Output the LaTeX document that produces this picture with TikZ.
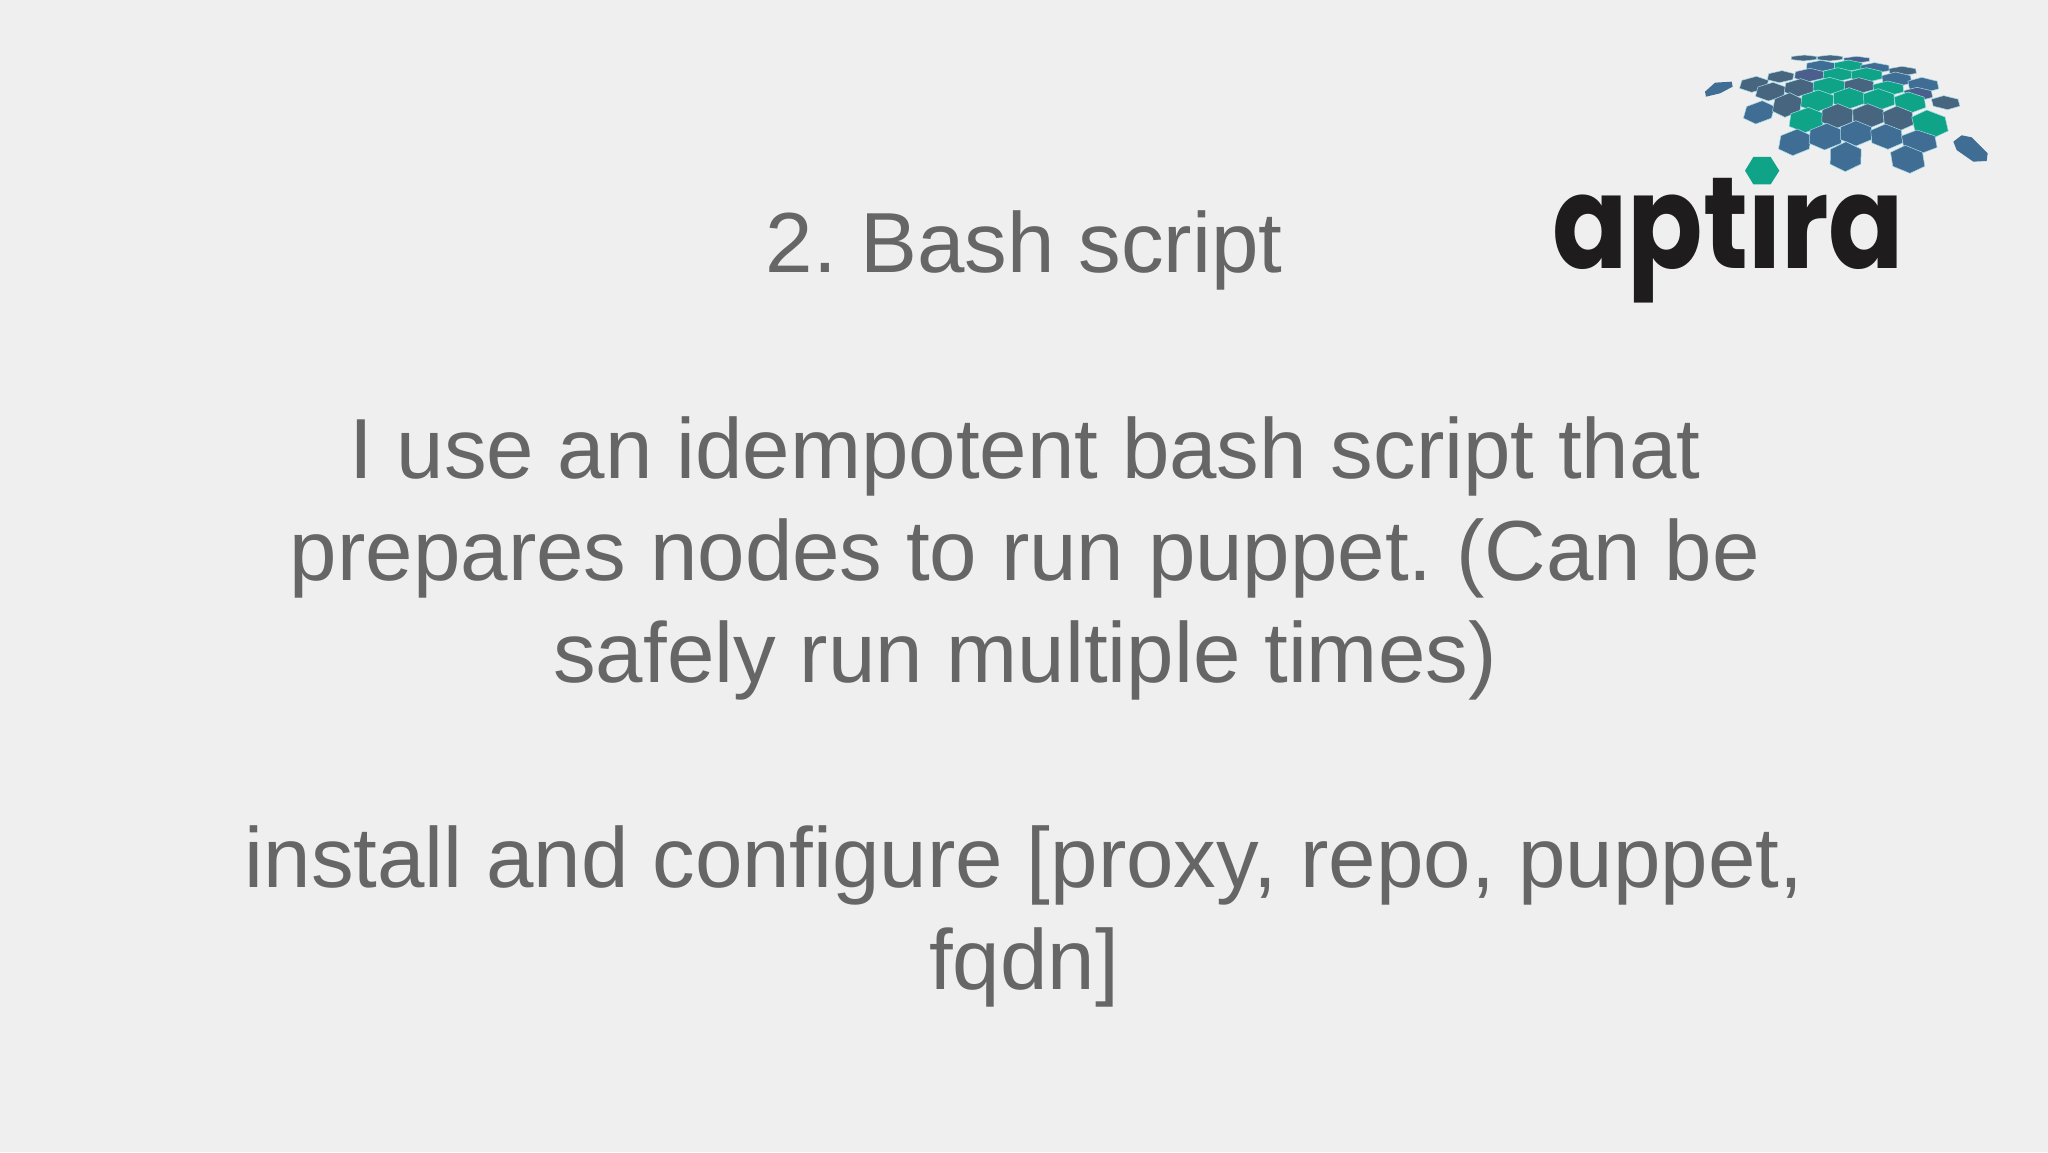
\documentclass[tikz,border=0pt]{standalone}
\usepackage{fontspec}
\setmainfont{Liberation Sans}
\newfontfamily\logofont{Poppins}
\definecolor{slidebg}{HTML}{EFEFF0}
\definecolor{slidetext}{HTML}{666666}
\definecolor{hexblue}{HTML}{3F6D94}
\definecolor{hexdark}{HTML}{47657F}
\definecolor{hexpurple}{HTML}{4A5F8C}
\definecolor{hexgreen}{HTML}{0FA487}
\definecolor{hexedge}{HTML}{A5DCE8}
\definecolor{logoblack}{HTML}{1E1C1D}
\newcommand{\hexa}[5]{%
  \pgfmathsetmacro{\hs}{(#1-520)/1000}%
  \fill[#5,draw=hexedge,line width=.5pt]
    (#1-\hs*#4,#2-#4) -- (#1+#3-\hs*#4*.5,#2-#4*.5) -- (#1+#3+\hs*#4*.5,#2+#4*.5)
    -- (#1+\hs*#4,#2+#4) -- (#1-#3+\hs*#4*.5,#2+#4*.5) -- (#1-#3-\hs*#4*.5,#2-#4*.5) -- cycle;}
\tikzset{
  slideline/.style={inner sep=0pt,align=center,text=slidetext,
    font=\fontsize{85.3}{102}\selectfont},
}
\frenchspacing
\begin{document}
\begin{tikzpicture}[x=1pt,y=-1pt]
\useasboundingbox (0,0) rectangle (2048,1152);
\fill[slidebg] (0,0) rectangle (2048,1152);
\node[slideline,anchor=north] (title) at (1024,210) {2. Bash script};
\node[slideline,anchor=north] (para) at (1025,416) {I use an idempotent bash script that\\prepares nodes to run puppet. (Can be\\safely run multiple times)};
\node[slideline,anchor=north] (install) at (1024,825) {install and configure [proxy, repo, puppet,\\fqdn]};
\node[inner sep=0pt,anchor=base west,text=logoblack,xscale=.855] (logo) at (1552,268)
  {\logofont\bfseries\fontsize{130}{130}\selectfont aptira};
\fill[slidebg] (1748,150) rectangle (1790,189);
\begin{scope}[shift={(1680,40)},x=.3333pt,y=-.3333pt]
\hexa{372}{54}{38}{9}{hexdark}
\hexa{450}{54}{38}{9}{hexdark}
\hexa{530}{59}{38}{10}{hexpurple}
\hexa{422}{78}{42}{17}{hexblue}
\hexa{505}{77}{41}{17}{hexgreen}
\hexa{585}{84}{42}{16}{hexblue}
\hexa{668}{93}{40}{14}{hexdark}
\hexa{222}{133}{40}{24}{hexdark}
\hexa{302}{110}{38}{18}{hexdark}
\hexa{388}{105}{43}{20}{hexpurple}
\hexa{473}{104}{43}{21}{hexgreen}
\hexa{560}{105}{46}{22}{hexgreen}
\hexa{650}{118}{43}{22}{hexblue}
\hexa{730}{135}{44}{23}{hexblue}
\hexa{272}{155}{42}{28}{hexdark}
\hexa{358}{143}{43}{27}{hexdark}
\hexa{447}{138}{47}{26}{hexgreen}
\hexa{537}{137}{44}{24}{hexdark}
\hexa{625}{145}{45}{22}{hexgreen}
\hexa{715}{162}{41}{20}{hexpurple}
\hexa{797}{188}{40}{21}{hexdark}
\hexa{237}{217}{42}{35}{hexblue}
\hexa{322}{195}{41}{37}{hexdark}
\hexa{412}{183}{48}{33}{hexgreen}
\hexa{507}{175}{46}{32}{hexgreen}
\hexa{597}{178}{46}{32}{hexgreen}
\hexa{690}{187}{45}{31}{hexgreen}
\hexa{380}{240}{50}{38}{hexgreen}
\hexa{472}{228}{46}{37}{hexdark}
\hexa{565}{228}{46}{37}{hexdark}
\hexa{655}{235}{44}{37}{hexdark}
\hexa{750}{252}{50}{42}{hexgreen}
\hexa{345}{307}{46}{40}{hexblue}
\hexa{437}{290}{48}{40}{hexblue}
\hexa{528}{280}{46}{38}{hexblue}
\hexa{620}{290}{46}{38}{hexblue}
\hexa{718}{305}{50}{35}{hexblue}
\hexa{497}{350}{46}{45}{hexblue}
\hexa{683}{358}{48}{42}{hexblue}
\fill[hexblue] (75,155) -- (105,128) -- (155,125) -- (158,140) -- (120,160) -- (78,170) -- cycle;
\fill[hexblue] (820,305) -- (845,286) -- (875,292) -- (923,340) -- (920,363) -- (880,365) -- (830,330) -- cycle;
\fill[hexgreen] (195,392) -- (220,351) -- (272,351) -- (298,392) -- (272,433) -- (220,433) -- cycle;
\end{scope}
\end{tikzpicture}
\end{document}
